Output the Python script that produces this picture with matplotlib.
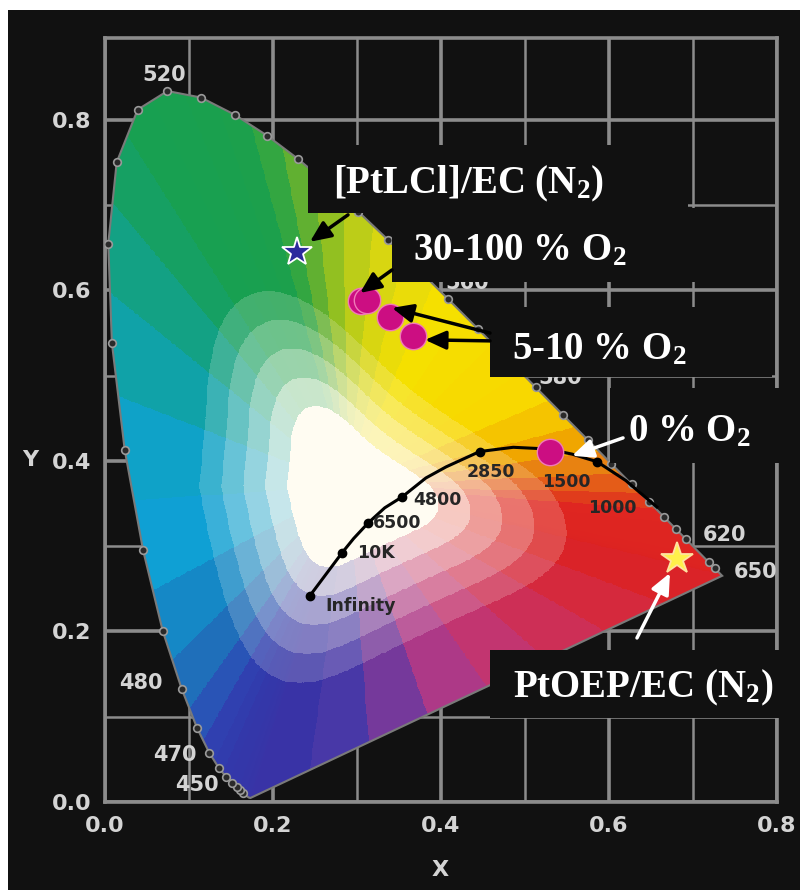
import numpy as np
import matplotlib.pyplot as plt
from matplotlib.patches import Polygon, Rectangle
from matplotlib.colors import LinearSegmentedColormap, to_rgb

# CIE 1931 spectral locus (nm, x, y)
locus_nm = [400, 410, 420, 425, 430, 435, 440, 445, 450, 455, 460, 465, 470, 475,
            480, 485, 490, 495, 500, 505, 510, 515, 520, 525, 530, 535, 540, 545,
            550, 555, 560, 565, 570, 575, 580, 585, 590, 595, 600, 605, 610, 615,
            620, 625, 630, 635, 640, 650, 660, 680, 700]
locus_x = [0.1733, 0.1726, 0.1714, 0.1703, 0.1689, 0.1669, 0.1644, 0.1611, 0.1566,
           0.1510, 0.1440, 0.1355, 0.1241, 0.1096, 0.0913, 0.0687, 0.0454, 0.0235,
           0.0082, 0.0039, 0.0139, 0.0389, 0.0743, 0.1142, 0.1547, 0.1929, 0.2296,
           0.2658, 0.3016, 0.3373, 0.3731, 0.4087, 0.4441, 0.4788, 0.5125, 0.5448,
           0.5752, 0.6029, 0.6270, 0.6482, 0.6658, 0.6801, 0.6915, 0.7006, 0.7079,
           0.7140, 0.7190, 0.7260, 0.7300, 0.7334, 0.7347]
locus_y = [0.0048, 0.0048, 0.0051, 0.0058, 0.0069, 0.0086, 0.0109, 0.0138, 0.0177,
           0.0227, 0.0297, 0.0399, 0.0578, 0.0868, 0.1327, 0.2007, 0.2950, 0.4127,
           0.5384, 0.6548, 0.7502, 0.8120, 0.8338, 0.8262, 0.8059, 0.7816, 0.7543,
           0.7243, 0.6923, 0.6589, 0.6245, 0.5896, 0.5547, 0.5202, 0.4866, 0.4544,
           0.4242, 0.3965, 0.3725, 0.3514, 0.3340, 0.3197, 0.3083, 0.2993, 0.2920,
           0.2859, 0.2809, 0.2740, 0.2700, 0.2666, 0.2653]

# wavelengths with a ring marker on the locus
ring_nm = [440, 445, 450, 455, 460, 465, 470, 475, 480, 485, 490, 495, 500, 505, 510,
           515, 520, 525, 530, 535, 540, 545, 550, 555, 560, 565, 570, 575, 580, 585,
           590, 595, 600, 605, 610, 615, 620, 640, 650]

wl_text = ['520', '480', '470', '450', '620', '650', '580', '560']
wl_text_x = [0.071, 0.043, 0.083, 0.110, 0.738, 0.774, 0.542, 0.431]
wl_text_y = [0.853, 0.140, 0.055, 0.020, 0.313, 0.270, 0.497, 0.609]

# Planckian locus
planck_x = [0.244, 0.282, 0.296, 0.313, 0.333, 0.354, 0.382, 0.406, 0.446, 0.486,
            0.527, 0.556, 0.586, 0.620, 0.657]
planck_y = [0.242, 0.292, 0.309, 0.327, 0.345, 0.358, 0.380, 0.393, 0.411, 0.416,
            0.414, 0.408, 0.399, 0.377, 0.346]
planck_dots = [0, 1, 3, 5, 8, 12]
temp_text = ['Infinity', '10K', '6500', '4800', '2850', '1500', '1000']
temp_text_x = [0.262, 0.300, 0.319, 0.367, 0.431, 0.520, 0.575]
temp_text_y = [0.230, 0.292, 0.327, 0.354, 0.387, 0.375, 0.345]

# emission colour coordinates
pt_lcl_n2 = (0.229, 0.645)
o2_x = [0.305, 0.312, 0.339, 0.367, 0.530]
o2_y = [0.587, 0.589, 0.569, 0.547, 0.411]
ptoep_n2 = (0.681, 0.285)

# colour of the locus by wavelength
pal_nm = [400, 440, 460, 470, 475, 480, 485, 490, 495, 500, 505, 510, 515, 530, 535,
          540, 545, 550, 555, 560, 565, 580, 585, 590, 595, 600, 605, 610, 700]
pal_hex = ['#3a34a6', '#3636a8', '#3438aa', '#3040b0', '#2a55b6', '#1f6fba', '#1588c6',
           '#0fa0d4', '#0fa2c8', '#10a2a8', '#14a184', '#16a064', '#18a052', '#1ca04c',
           '#34a642', '#62b032', '#92c022', '#bccd18', '#d8d612', '#eadc0a', '#f5e000',
           '#f8d800', '#f5c400', '#f0a600', '#e88212', '#e45c18', '#e03c1c', '#df2622',
           '#dc2222']
purple_line = LinearSegmentedColormap.from_list(
    'purple_line', [(0.0, '#da2428'), (0.2, '#d42c46'), (0.4, '#c6356c'),
                    (0.6, '#aa3a8c'), (0.8, '#4e3aa8'), (1.0, '#3a34a6')])

pal_rgb = np.array([to_rgb(c) for c in pal_hex])


def nm_to_rgb(nm):
    return np.stack([np.interp(nm, pal_nm, pal_rgb[:, i]) for i in range(3)], axis=-1)


# --- colour fill: banded mix from a white centre out to the locus colour ---
cx, cy = 0.29, 0.37
white = np.array([1.0, 0.99, 0.95])
vx, vy = np.array(locus_x), np.array(locus_y)
nm = np.array(locus_nm, dtype=float)
ex, ey = np.roll(vx, -1) - vx, np.roll(vy, -1) - vy
wx, wy = vx - cx, vy - cy

n_ang = 4096
theta = np.linspace(-np.pi, np.pi, n_ang, endpoint=False)
dx, dy = np.cos(theta)[:, None], np.sin(theta)[:, None]
den = dx * ey - dy * ex
with np.errstate(divide='ignore', invalid='ignore'):
    t = (wx * ey - wy * ex) / den
    u = (wx * dy - wy * dx) / den
ok = (den != 0) & (u >= 0) & (u <= 1) & (t > 0)
t = np.where(ok, t, np.inf)
k = np.argmin(t, axis=1)
rows = np.arange(n_ang)
R = t[rows, k]
U = u[rows, k]

# round off the bands: smooth the boundary distance around the circle
sig = 110
kern = np.exp(-0.5 * (np.arange(-4 * sig, 4 * sig + 1) / sig) ** 2)
kern /= kern.sum()
R_wrap = np.concatenate([R[-4 * sig:], R, R[:4 * sig]])
R_s = np.convolve(R_wrap, kern, mode='same')[4 * sig:-4 * sig]

edge_col = np.zeros((n_ang, 3))
on_locus = k < len(nm) - 1
kk = np.clip(k, 0, len(nm) - 2)
nm_b = nm[kk] + U * (nm[kk + 1] - nm[kk])
edge_col[on_locus] = nm_to_rgb(np.round(nm_b[on_locus] / 5) * 5)
tq = np.floor(U[~on_locus] * 8) / 7
edge_col[~on_locus] = purple_line(np.clip(tq, 0, 1))[:, :3]

gx = np.linspace(0, 0.8, 800)
gy = np.linspace(0, 0.9, 900)
X, Y = np.meshgrid(gx, gy)
ang = np.arctan2(Y - cy, X - cx)
idx = ((ang + np.pi) / (2 * np.pi) * n_ang).astype(int) % n_ang
s = np.hypot(X - cx, Y - cy) / R_s[idx]
# greens and yellows reach full strength sooner than the blues
s = s * (1 + 0.3 * np.clip(np.sin(ang), 0, 1))
f = np.clip((s - 0.28) / 0.5, 0, 1)
q = (np.ceil(f * 5) / 5) ** 0.9
rgb = white + (edge_col[idx] - white) * q[..., None]

# --- figure ---
plt.rcParams['font.family'] = 'DejaVu Sans'
plt.rcParams['mathtext.fontset'] = 'custom'
plt.rcParams['mathtext.rm'] = 'Liberation Serif:bold'
plt.rcParams['mathtext.it'] = 'Liberation Serif:bold'
plt.rcParams['mathtext.bf'] = 'Liberation Serif:bold'

bg = '#111111'
grey = '#8c8c8c'
fig = plt.figure(figsize=(8, 8.9), dpi=100, facecolor='white')
fig.patches.append(Rectangle((8 / 800, 0), 1, 880 / 890, transform=fig.transFigure,
                             facecolor=bg, edgecolor='none', zorder=-10))
ax = fig.add_axes([105 / 800, 88 / 890, 672 / 800, 764 / 890])
ax.set_facecolor(bg)
ax.set_xlim(0, 0.8)
ax.set_ylim(0, 0.896)

ticks = [0.0, 0.2, 0.4, 0.6, 0.8]
ax.set_xticks(ticks)
ax.set_yticks(ticks)
ax.set_xticks([0.1, 0.3, 0.5, 0.7], minor=True)
ax.set_yticks([0.1, 0.3, 0.5, 0.7], minor=True)
ax.set_xticklabels(['%.1f' % v for v in ticks], fontweight='bold')
ax.set_yticklabels(['%.1f' % v for v in ticks], fontweight='bold')
ax.tick_params(which='both', length=0, labelsize=16, labelcolor='#d4d4d4', pad=10)
ax.set_axisbelow(True)
ax.grid(which='major', color=grey, lw=2.6)
ax.grid(which='minor', color=grey, lw=1.8)
for sp in ax.spines.values():
    sp.set_color(grey)
    sp.set_linewidth(2.6)

outline = Polygon(np.column_stack([vx, vy]), closed=True, facecolor='none',
                  edgecolor='#7a7a7a', lw=1.5, zorder=3)
ax.add_patch(outline)
im = ax.imshow(rgb, extent=[0, 0.8, 0, 0.9], origin='lower', interpolation='nearest',
               aspect='auto', zorder=2)
im.set_clip_path(outline)

ring_x = np.interp(ring_nm, locus_nm, locus_x)
ring_y = np.interp(ring_nm, locus_nm, locus_y)
ax.plot(ring_x, ring_y, 'o', ms=5.5, mfc='#2a2a2a', mec='#9a9a9a', mew=1.2, zorder=4)

for txt, x, y in zip(wl_text, wl_text_x, wl_text_y):
    ax.text(x, y, txt, color='#d4d4d4', fontsize=15, fontweight='bold',
            ha='center', va='center', zorder=4, clip_on=False)

ax.plot(planck_x, planck_y, color='black', lw=2.2, zorder=4)
ax.plot(np.array(planck_x)[planck_dots], np.array(planck_y)[planck_dots], 'o',
        color='black', ms=6, zorder=4)
for txt, x, y in zip(temp_text, temp_text_x, temp_text_y):
    ax.text(x, y, txt, color='#262626', fontsize=12.5, fontweight='bold',
            ha='left', va='center', zorder=4)

ax.plot(*pt_lcl_n2, '*', ms=22, mfc='#2b2a9c', mec='white', mew=1.3, zorder=7)
ax.plot(o2_x, o2_y, 'o', ms=19, mfc='#cc0e82', mec='#f07ab8', mew=1.0, zorder=7)
ax.plot(*ptoep_n2, '*', ms=24, mfc='#fff04a', mec='#ffe2a0', mew=1.3, zorder=7)

# black label boxes (x0, y0, x1, y1 in data units)
boxes = [(0.242, 0.691, 0.694, 0.771), (0.342, 0.610, 0.794, 0.697),
         (0.458, 0.4985, 0.794, 0.5806), (0.601, 0.398, 0.83, 0.486),
         (0.458, 0.0985, 0.83, 0.178)]
for x0, y0, x1, y1 in boxes:
    ax.add_patch(Rectangle((x0, y0), x1 - x0, y1 - y0, facecolor=bg, edgecolor='none',
                           zorder=5, clip_on=False))

serif = dict(family='Liberation Serif', fontweight='bold', fontsize=28, color='white',
             ha='left', va='baseline', zorder=6, clip_on=False)
ax.text(0.271, 0.714, r'[PtLCl]/EC (N$_2$)', **serif)
ax.text(0.367, 0.635, r'30-100 % O$_2$', **serif)
ax.text(0.4845, 0.5197, r'5-10 % O$_2$', **serif)
ax.text(0.6226, 0.4235, r'0 % O$_2$', **serif)
ax.text(0.4857, 0.1232, r'PtOEP/EC (N$_2$)', **serif)

arrows = [((0.2893, 0.6886), (0.244, 0.657), 'black'),
          ((0.3417, 0.624), (0.3036, 0.597), 'black'),
          ((0.4583, 0.550), (0.3417, 0.5795), 'black'),
          ((0.4583, 0.5408), (0.381, 0.542), 'black'),
          ((0.6167, 0.427), (0.556, 0.406), 'white'),
          ((0.6333, 0.1924), (0.6726, 0.2686), 'white')]
for tail, tip, c in arrows:
    ax.annotate('', xy=tip, xytext=tail, zorder=8,
                arrowprops=dict(arrowstyle='-|>,head_length=0.9,head_width=0.4',
                                color=c, lw=2.5, shrinkA=0, shrinkB=0,
                                mutation_scale=14))

fig.text(30 / 800, 1 - 460 / 890, 'Y', color='#d4d4d4', fontsize=16, fontweight='bold',
         ha='center', va='center')
fig.text(440 / 800, 1 - 870 / 890, 'X', color='#d4d4d4', fontsize=16, fontweight='bold',
         ha='center', va='center')

fig.savefig('out.png', dpi=100, facecolor=fig.get_facecolor())
